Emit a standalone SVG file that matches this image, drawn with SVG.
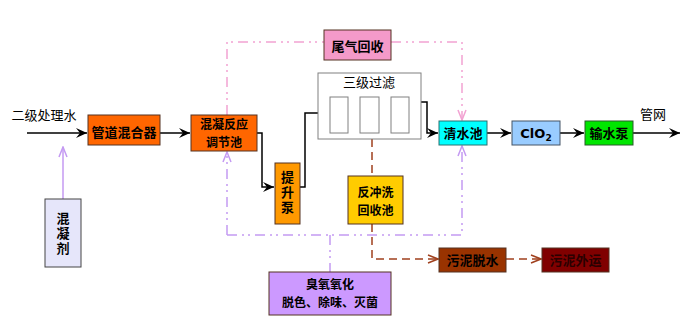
<svg xmlns="http://www.w3.org/2000/svg" width="700" height="327" viewBox="0 0 700 327">
<style>
text{font-family:"Noto Sans CJK SC","Liberation Sans",sans-serif;font-size:13px;fill:#000;text-anchor:middle}
.b{font-weight:bold}
.t{font-size:12px}
.v{writing-mode:tb;glyph-orientation-vertical:0;letter-spacing:2px}
.box{stroke:#553322;stroke-width:1}
.flow{fill:none;stroke:#000;stroke-width:1.5}
.pink{fill:none;stroke:#F2A2D2;stroke-width:1.5;stroke-dasharray:10 5 2 4 2 5}
.purp{fill:none;stroke:#C49AF2;stroke-width:1.5;stroke-dasharray:10 5 2 4 2 5}
.sludge{fill:none;stroke:#A0401E;stroke-width:1.5;stroke-dasharray:8 5}
</style>
<defs>
<marker id="ab" markerWidth="12" markerHeight="10" refX="11" refY="5" orient="auto" markerUnits="userSpaceOnUse"><path d="M0,0 L11,5 L0,10 L4,5 z" fill="#000"/></marker>
<marker id="ap" markerWidth="12" markerHeight="10" refX="11" refY="5" orient="auto" markerUnits="userSpaceOnUse"><path d="M1,1 L11,5 L1,9" fill="none" stroke="#F2A2D2" stroke-width="1.5"/></marker>
<marker id="av" markerWidth="12" markerHeight="10" refX="11" refY="5" orient="auto" markerUnits="userSpaceOnUse"><path d="M1,1 L11,5 L1,9" fill="none" stroke="#C49AF2" stroke-width="1.5"/></marker>
<marker id="as" markerWidth="12" markerHeight="10" refX="11" refY="5" orient="auto" markerUnits="userSpaceOnUse"><path d="M1,1 L11,5 L1,9" fill="none" stroke="#A0401E" stroke-width="1.5"/></marker>
</defs>
<rect width="700" height="327" fill="#fff"/>
<g id="connectors">
<path class="flow" d="M27,133 H87" marker-end="url(#ab)"/>
<path class="flow" d="M160,133 H190" marker-end="url(#ab)"/>
<path class="flow" d="M257,133 H262 V187 H274" marker-end="url(#ab)"/>
<path class="flow" d="M300,187 H305 V113 H329" marker-end="url(#ab)"/>
<path class="flow" d="M409,102 H427 V133 H438" marker-end="url(#ab)"/>
<path class="flow" d="M487,133 H511" marker-end="url(#ab)"/>
<path class="flow" d="M560,133 H584" marker-end="url(#ab)"/>
<path class="flow" d="M633,133 H680" marker-end="url(#ab)"/>
<path d="M63,199 V147" fill="none" stroke="#C49AF2" stroke-width="1.5" marker-end="url(#av)"/>
<path class="pink" d="M227,115 V42 H324"/>
<path class="pink" d="M391,42 H462 V120" marker-end="url(#ap)"/>
<path class="purp" d="M227,235 V152" marker-end="url(#av)"/>
<path class="purp" d="M227,235 H462 V146" marker-end="url(#av)"/>
<path class="purp" d="M330,235 V272"/>
<path class="sludge" d="M372,139 V176"/>
<path class="sludge" d="M372,224 V259 H438" marker-end="url(#as)"/>
<path class="sludge" d="M506,259 H541" marker-end="url(#as)"/>
</g>
<g id="input"><text x="44" y="120">二级处理水</text></g>
<g id="output"><text x="653" y="119">管网</text></g>
<g id="mixer"><rect class="box" x="88" y="115" width="72" height="30" fill="#FF6600"/><text class="b" x="124" y="137">管道混合器</text></g>
<g id="coag-tank"><rect class="box" x="191" y="115" width="66" height="36" fill="#FF6600"/><text class="b t" x="224" y="129">混凝反应</text><text class="b t" x="224" y="146.5">调节池</text></g>
<g id="coagulant"><rect x="45" y="199" width="36" height="68" fill="#E6E6FA" stroke="#444"/><text class="b v" x="63" y="234">混凝剂</text></g>
<g id="pump"><rect class="box" x="275" y="163" width="25" height="61" fill="#FF9900"/><text class="b v" x="287.5" y="193">提升泵</text></g>
<g id="filter"><rect x="318" y="73" width="103" height="66" fill="#fff" stroke="#808080"/><text x="369" y="87">三级过滤</text><rect x="330" y="97" width="18" height="36" fill="#fff" stroke="#808080"/><rect x="360" y="97" width="19" height="36" fill="#fff" stroke="#808080"/><rect x="391" y="97" width="18" height="36" fill="#fff" stroke="#808080"/></g>
<g id="backwash"><rect class="box" x="348" y="176" width="55" height="48" fill="#FFCC00"/><text class="b t" x="375.5" y="197">反冲洗</text><text class="b t" x="375.5" y="214.5">回收池</text></g>
<g id="gas"><rect class="box" x="324" y="30" width="67" height="30" fill="#F49AC9"/><text class="b" x="357.5" y="51">尾气回收</text></g>
<g id="clear-tank"><rect x="439" y="121" width="48" height="24" fill="#00FFFF" stroke="#2A7070"/><text class="b" x="463" y="138">清水池</text></g>
<g id="clo2"><rect x="512" y="121" width="48" height="24" fill="#99CCFF" stroke="#445566"/><text class="b" x="536" y="138" style="font-family:'DejaVu Sans','Liberation Sans',sans-serif">ClO<tspan font-size="9" dy="3">2</tspan></text></g>
<g id="transfer-pump"><rect x="585" y="121" width="48" height="24" fill="#00E600" stroke="#2A5A2A"/><text class="b" x="609" y="138">输水泵</text></g>
<g id="ozone"><rect class="box" x="269" y="272" width="122" height="43" fill="#CC99FF"/><text class="b t" x="330" y="289">臭氧氧化</text><text class="b t" x="330" y="306.5">脱色、除味、灭菌</text></g>
<g id="dewater"><rect class="box" x="439" y="248" width="67" height="24" fill="#993300"/><text class="b" x="472.5" y="265">污泥脱水</text></g>
<g id="transport"><rect class="box" x="542" y="248" width="67" height="24" fill="#800000"/><text class="b" x="575.5" y="265" style="fill:#2a0000">污泥外运</text></g>
</svg>
